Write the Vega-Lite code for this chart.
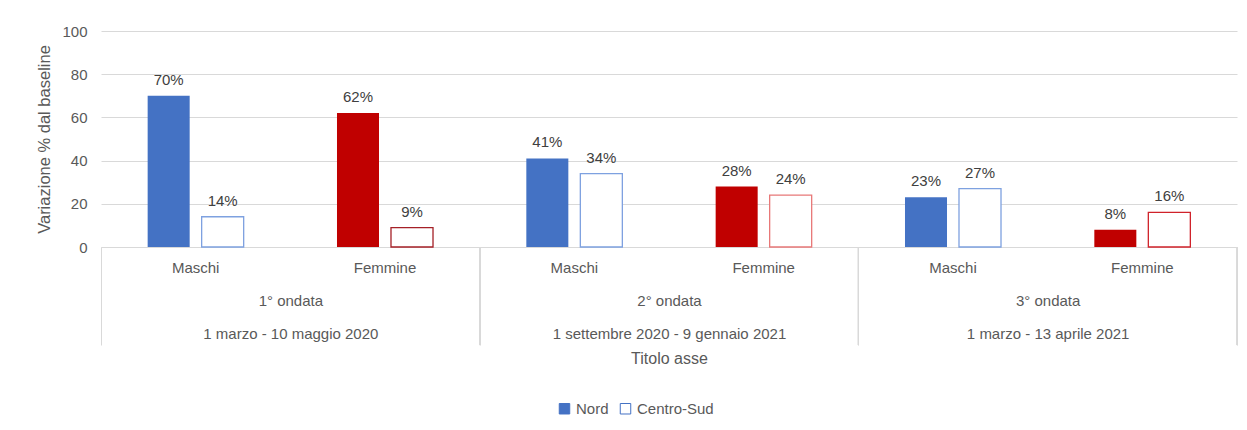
{
  "$schema": "https://vega.github.io/schema/vega-lite/v6.json",
  "width": 1136,
  "height": 216,
  "autosize": {"type": "none"},
  "padding": {"left": 101, "top": 31, "right": 10, "bottom": 183},
  "background": "white",
  "config": {
    "view": {"stroke": null},
    "font": "Liberation Sans",
    "text": {"font": "Liberation Sans"}
  },
  "data": {
    "values": [
      {"ondata": "1° ondata", "periodo": "1 marzo - 10 maggio 2020", "sesso": "Maschi", "regione": "Nord", "valore": 70},
      {"ondata": "1° ondata", "periodo": "1 marzo - 10 maggio 2020", "sesso": "Maschi", "regione": "Centro-Sud", "valore": 14},
      {"ondata": "1° ondata", "periodo": "1 marzo - 10 maggio 2020", "sesso": "Femmine", "regione": "Nord", "valore": 62},
      {"ondata": "1° ondata", "periodo": "1 marzo - 10 maggio 2020", "sesso": "Femmine", "regione": "Centro-Sud", "valore": 9},
      {"ondata": "2° ondata", "periodo": "1 settembre 2020 - 9 gennaio 2021", "sesso": "Maschi", "regione": "Nord", "valore": 41},
      {"ondata": "2° ondata", "periodo": "1 settembre 2020 - 9 gennaio 2021", "sesso": "Maschi", "regione": "Centro-Sud", "valore": 34},
      {"ondata": "2° ondata", "periodo": "1 settembre 2020 - 9 gennaio 2021", "sesso": "Femmine", "regione": "Nord", "valore": 28},
      {"ondata": "2° ondata", "periodo": "1 settembre 2020 - 9 gennaio 2021", "sesso": "Femmine", "regione": "Centro-Sud", "valore": 24},
      {"ondata": "3° ondata", "periodo": "1 marzo - 13 aprile 2021", "sesso": "Maschi", "regione": "Nord", "valore": 23},
      {"ondata": "3° ondata", "periodo": "1 marzo - 13 aprile 2021", "sesso": "Maschi", "regione": "Centro-Sud", "valore": 27},
      {"ondata": "3° ondata", "periodo": "1 marzo - 13 aprile 2021", "sesso": "Femmine", "regione": "Nord", "valore": 8},
      {"ondata": "3° ondata", "periodo": "1 marzo - 13 aprile 2021", "sesso": "Femmine", "regione": "Centro-Sud", "valore": 16}
    ]
  },
  "transform": [
    {"calculate": "datum.ondata + '|' + datum.sesso", "as": "categoria"},
    {"calculate": "datum.ondata + '|' + datum.periodo", "as": "fase"},
    {"calculate": "datum.valore + '%'", "as": "etichetta"}
  ],
  "layer": [
    {
      "layer": [
        {
          "mark": {"type": "bar", "strokeWidth": 1.3},
          "encoding": {
            "x": {
              "field": "categoria", "type": "nominal", "sort": null,
              "scale": {"paddingInner": 0, "paddingOuter": 0},
              "axis": {
                "title": null,
                "labelExpr": "split(datum.label, '|')[1]",
                "labelAngle": 0,
                "labelFont": "Liberation Sans",
                "labelFontSize": 15,
                "labelColor": "#595959",
                "labelPadding": 13,
                "ticks": false,
                "domainColor": "#d9d9d9",
                "domainWidth": 1,
                "orient": "bottom"
              }
            },
            "xOffset": {
              "field": "regione", "type": "nominal",
              "sort": ["Nord", "Centro-Sud"],
              "scale": {"paddingInner": 0.222, "paddingOuter": 0.864}
            },
            "y": {
              "field": "valore", "type": "quantitative",
              "scale": {"domain": [0, 100]},
              "axis": {
                "title": "Variazione % dal baseline",
                "titleFont": "Liberation Sans",
                "titleFontSize": 16.5,
                "titleFontWeight": "normal",
                "titleColor": "#595959",
                "titlePadding": 9,
                "values": [0, 20, 40, 60, 80, 100],
                "labelFont": "Liberation Sans",
                "labelFontSize": 15,
                "labelColor": "#595959",
                "labelPadding": 14,
                "ticks": false,
                "domain": false,
                "gridColor": "#d9d9d9",
                "gridWidth": 1
              }
            },
            "fill": {
              "condition": {"test": "datum.regione == 'Centro-Sud'", "value": "#ffffff"},
              "field": "sesso", "type": "nominal",
              "scale": {"domain": ["Maschi", "Femmine"], "range": ["#4472C4", "#C00000"]},
              "legend": null
            },
            "stroke": {
              "condition": [
                {"test": "datum.regione == 'Nord'", "value": "transparent"},
                {"test": "datum.sesso == 'Maschi'", "value": "#7EA1E0"}
              ],
              "field": "ondata", "type": "nominal",
              "scale": {"domain": ["1° ondata", "2° ondata", "3° ondata"], "range": ["#A52027", "#E87878", "#D0222A"]},
              "legend": null
            }
          }
        },
        {
          "mark": {"type": "text", "dy": -16, "fontSize": 15, "color": "#404040", "font": "Liberation Sans"},
          "encoding": {
            "x": {"field": "categoria", "type": "nominal", "sort": null},
            "xOffset": {"field": "regione", "type": "nominal", "sort": ["Nord", "Centro-Sud"]},
            "y": {"field": "valore", "type": "quantitative"},
            "text": {"field": "etichetta", "type": "nominal"}
          }
        }
      ]
    },
    {
      "layer": [
        {
          "mark": {"type": "bar", "opacity": 0},
          "encoding": {
            "x": {
              "field": "fase", "type": "nominal", "sort": null,
              "scale": {"paddingInner": 0, "paddingOuter": 0},
              "axis": {
                "orient": "bottom",
                "title": "Titolo asse",
                "titleFont": "Liberation Sans",
                "titleFontSize": 16,
                "titleFontWeight": "normal",
                "titleColor": "#595959",
                "titlePadding": 5,
                "labelExpr": "split(datum.label, '|')",
                "labelAngle": 0,
                "labelLimit": 0,
                "labelFont": "Liberation Sans",
                "labelFontSize": 15,
                "labelLineHeight": 33,
                "labelColor": "#595959",
                "labelPadding": -52,
                "domain": false,
                "ticks": true,
                "tickSize": 98,
                "tickColor": "#d9d9d9",
                "tickWidth": 1,
                "tickBand": "extent",
                "tickExtra": true,
                "grid": false
              }
            },
            "y": {"datum": 0, "type": "quantitative", "scale": {"domain": [0, 100]}},
            "fill": {
              "field": "regione", "type": "nominal",
              "scale": {"domain": ["Nord", "Centro-Sud"], "range": ["#4472C4", "#ffffff"]},
              "legend": {
                "title": null,
                "orient": "none",
                "legendX": 456,
                "legendY": 370,
                "direction": "horizontal",
                "symbolType": "square",
                "symbolSize": 110,
                "symbolStrokeColor": "#4472C4",
                "symbolStrokeWidth": 1,
                "labelFont": "Liberation Sans",
                "labelFontSize": 15,
                "labelColor": "#595959",
                "columnPadding": 9
              }
            }
          }
        },
        {
          "mark": {"type": "rule", "color": "#d9d9d9", "strokeWidth": 1},
          "encoding": {
            "x": {"field": "fase", "type": "nominal", "sort": null, "bandPosition": 1},
            "y": {"datum": 0, "type": "quantitative", "scale": {"domain": [0, 100]}},
            "y2": {"datum": -45.4}
          }
        }
      ]
    }
  ],
  "resolve": {
    "scale": {"x": "independent", "fill": "independent", "xOffset": "independent"},
    "axis": {"x": "independent"}
  }
}
